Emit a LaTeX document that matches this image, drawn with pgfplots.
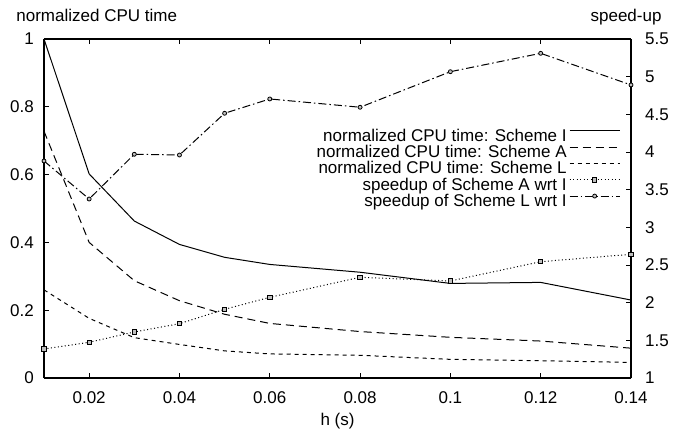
\documentclass[border=0pt]{standalone}
\usepackage{fontspec}
\setmainfont{Liberation Sans}
\usepackage{pgfplots}
\usepackage{pgfplotstable}
\pgfplotsset{compat=1.18}

% h (s), normalized CPU time of schemes I, A, L, speed-ups of A and L wrt I
\pgfplotstableread{
h     schI  schA  schL  spA   spL
0.01  1.000 0.728 0.260 1.385 3.881
0.02  0.602 0.400 0.176 1.474 3.376
0.03  0.463 0.287 0.119 1.611 3.970
0.04  0.394 0.228 0.099 1.721 3.960
0.05  0.356 0.188 0.080 1.912 4.514
0.06  0.335 0.161 0.071 2.071 4.704
0.08  0.312 0.137 0.067 2.337 4.594
0.10  0.279 0.120 0.055 2.288 5.066
0.12  0.282 0.109 0.051 2.544 5.310
0.14  0.230 0.088 0.046 2.642 4.890
}\cpudata

\newcommand{\bigfont}{\fontsize{17}{20}\selectfont}

\begin{document}
\begin{tikzpicture}
\pgfplotsset{
  every axis/.append style={
    width=587pt, height=339pt, scale only axis,
    xmin=0.01, xmax=0.14,
    xtick={0.02,0.04,0.06,0.08,0.1,0.12,0.14},
    xticklabels={0.02,0.04,0.06,0.08,0.1,0.12,0.14},
    scaled ticks=false, clip=false,
    tick align=inside, major tick length=5pt,
    every tick/.style={black, line width=1pt},
    axis line style={-, line width=1.6pt},
    tick label style={font=\bigfont},
    every axis plot/.append style={black, line width=1pt},
  },
}
\begin{axis}[name=ax,
  axis x line*=box, axis y line*=left,
  ymin=0, ymax=1, ytick={0,0.2,0.4,0.6,0.8,1},
  yticklabels={0,0.2,0.4,0.6,0.8,1},
  xticklabel style={anchor=base, yshift=-25pt},
  yticklabel style={anchor=east, inner sep=0pt, xshift=-10pt},
  xlabel={h (s)},
  every axis x label/.style={at={(axis description cs:0.5,0)}, anchor=base, yshift=-47pt, font=\bigfont},
  ylabel={normalized CPU time},
  every axis y label/.style={at={(axis description cs:-0.053,1.053)}, anchor=base west, font=\bigfont},
]
\addplot[solid] table[x=h, y=schI] {\cpudata};
\addplot[dash pattern=on 8pt off 5pt] table[x=h, y=schA] {\cpudata};
\addplot[dash pattern=on 4pt off 4pt] table[x=h, y=schL] {\cpudata};
\end{axis}

\begin{axis}[
  axis x line=none, axis y line*=right,
  ymin=1, ymax=5.5, ytick={1,1.5,2,2.5,3,3.5,4,4.5,5,5.5},
  yticklabels={1,1.5,2,2.5,3,3.5,4,4.5,5,5.5},
  yticklabel style={anchor=west, inner sep=0pt, xshift=14pt},
  ylabel={speed-up},
  every axis y label/.style={at={(axis description cs:1.058,1.053)}, anchor=base east, font=\bigfont},
  legend style={at={(axis description cs:0.987,0.742)}, anchor=north east,
    draw=none, fill=none, font=\bigfont, row sep=0pt,
    nodes={inner ysep=0pt, inner xsep=2.5pt, text height=12.5pt, text depth=3.8pt}},
  legend cell align=right, legend plot pos=right,
  legend image code/.code={\draw[mark repeat=2, mark phase=2, #1]
    plot coordinates {(0pt,6pt) (25pt,6pt) (50pt,6pt)};},
]
\addlegendimage{black, line width=1pt, solid}
\addlegendentry{normalized CPU time: Scheme I}
\addlegendimage{black, line width=1pt, dash pattern=on 8pt off 5pt}
\addlegendentry{normalized CPU time: Scheme A}
\addlegendimage{black, line width=1pt, dash pattern=on 4pt off 4pt}
\addlegendentry{normalized CPU time: Scheme L}
\addplot[dash pattern=on 1pt off 2.5pt, mark=square*, mark size=2.2pt,
  mark options={solid, fill=gray!50, line width=0.8pt}] table[x=h, y=spA] {\cpudata};
\addlegendentry{speedup of Scheme A wrt I}
\addplot[dash pattern=on 8pt off 3pt on 1.5pt off 3pt, mark=*, mark size=2pt,
  mark options={solid, fill=gray!50, line width=0.8pt}] table[x=h, y=spL] {\cpudata};
\addlegendentry{speedup of Scheme L wrt I}
\end{axis}

% keep the reference's margins round the axis box
\path ([xshift=-44pt, yshift=-54pt]ax.south west) rectangle ([xshift=50pt, yshift=39pt]ax.north east);
\end{tikzpicture}
\end{document}
